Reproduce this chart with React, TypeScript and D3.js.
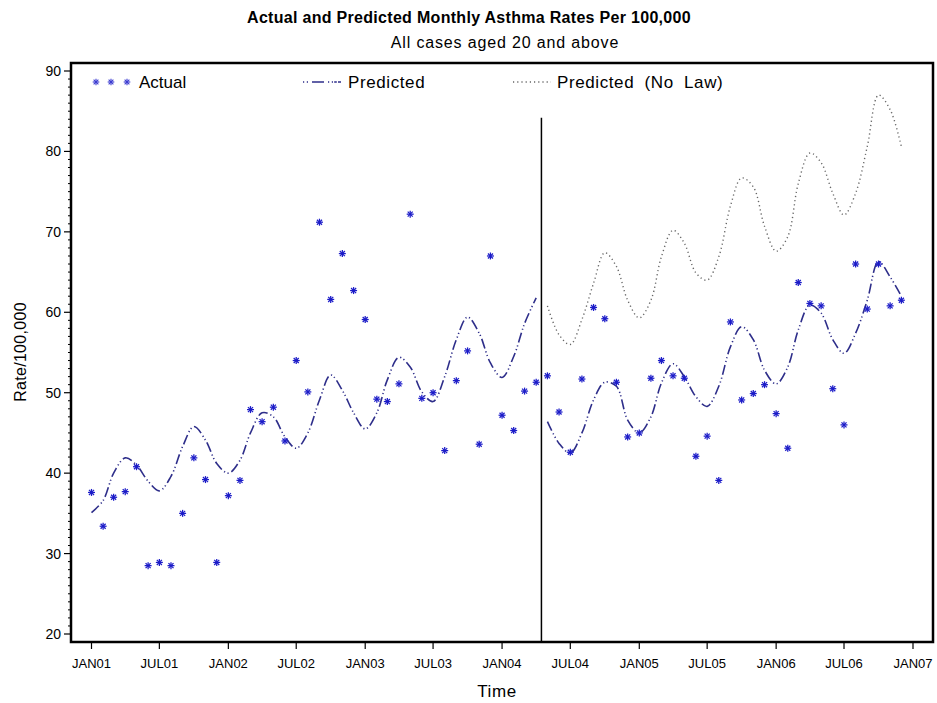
import React from 'react';
import * as d3 from 'd3';

// monthly rates Jan 2001 .. Dec 2006
const actual = [
  37.6, 33.4, 37.0, 37.7, 40.8, 28.5, 28.9, 28.5, 35.0, 41.9, 39.2, 28.9,
  37.2, 39.1, 47.9, 46.4, 48.2, 44.0, 54.0, 50.1, 71.2, 61.6, 67.3, 62.7,
  59.1, 49.2, 48.9, 51.1, 72.2, 49.3, 50.0, 42.8, 51.5, 55.2, 43.6, 67.0,
  47.2, 45.3, 50.2, 51.3, 52.1, 47.6, 42.6, 51.7, 60.6, 59.2, 51.3, 44.5,
  45.0, 51.8, 54.0, 52.1, 51.8, 42.1, 44.6, 39.1, 58.8, 49.1, 49.9, 51.0,
  47.4, 43.1, 63.7, 61.1, 60.8, 50.5, 46.0, 66.0, 60.4, 66.0, 60.8, 61.5,
];

// predicted before the law: Jan 2001 .. Apr 2004
const predictedPre = [
  35.1, 36.6, 40.0, 41.9, 41.0, 39.0, 37.8, 39.6, 43.3, 45.8, 44.1, 41.2,
  40.0, 41.6, 45.0, 47.5, 47.0, 44.5, 43.1, 45.0, 49.1, 52.2, 50.3, 47.5,
  45.5, 47.5, 51.6, 54.4, 53.2, 50.1, 48.9, 52.0, 56.6, 59.4, 57.4, 53.7,
  51.9, 54.5, 58.6, 61.8,
];

// predicted after the law: May 2004 .. Dec 2006
const predictedPost = [
  46.4, 43.7, 42.5, 45.0, 49.1, 51.3, 50.8, 46.6,
  45.0, 47.0, 51.2, 53.6, 52.0, 49.5, 48.3, 50.8, 55.7, 58.2, 56.6, 52.8,
  51.1, 53.2, 57.8, 60.9, 59.9, 56.6, 54.9, 57.4, 61.5, 66.3, 64.4, 62.0,
];

// predicted without the law: May 2004 .. Dec 2006
const predictedNoLaw = [
  60.8, 57.2, 56.0, 59.1, 63.6, 67.4, 65.7, 61.5,
  59.3, 61.5, 66.9, 70.2, 68.6, 64.9, 64.0, 66.9, 73.2, 76.7, 75.6, 70.7,
  67.6, 69.4, 76.0, 79.8, 78.6, 74.8, 72.1, 74.8, 80.6, 87.0, 85.2, 80.6,
];

const yTicks = [20, 30, 40, 50, 60, 70, 80, 90];
const lawDate = new Date(2004, 3, 15);
const lawLineTop = 84.2;

const FONT = '"Liberation Sans", Arial, sans-serif';
const BLUE = '#1c1cc8';
const NAVY = '#2e2e8a';
const GREY = '#666';

const Star = ({ cx, cy, r = 3.5, color = BLUE, w = 1.25 }: any) => (
  <g stroke={color} strokeWidth={w}>
    <line x1={cx} y1={cy - r} x2={cx} y2={cy + r} />
    <line x1={cx - r} y1={cy} x2={cx + r} y2={cy} />
    <line x1={cx - r * 0.72} y1={cy - r * 0.72} x2={cx + r * 0.72} y2={cy + r * 0.72} />
    <line x1={cx - r * 0.72} y1={cy + r * 0.72} x2={cx + r * 0.72} y2={cy - r * 0.72} />
  </g>
);

export default function App() {
  const width = 937;
  const height = 703;
  const frame = { left: 71, right: 933, top: 63, bottom: 642 };

  const start = new Date(2001, 0, 1);
  const end = new Date(2007, 0, 1);
  const months = d3.timeMonth.range(start, end);

  const x = d3.scaleTime().domain([start, end]).range([91.5, 913]);
  const y = d3.scaleLinear().domain([20, 90]).range([634, 71]);

  const line = (offset: number) =>
    d3.line<number>()
      .x((d, i) => x(months[offset + i]))
      .y(d => y(d))
      .curve(d3.curveCatmullRom.alpha(0.5));

  const lawIdx = months.findIndex(m => m > lawDate);

  const xTicks = d3.timeMonth.every(6)!.range(start, d3.timeDay.offset(end, 1));
  const fmt = d3.timeFormat('%b%y');
  const minorY = d3.range(20, 91, 1).filter(v => v % 10 !== 0);

  const predDash = '10 3 1.2 2.6 1.2 3';
  const noLawDash = '1.2 3';

  return (
    <svg width={width} height={height} style={{ position: 'absolute', left: 0, top: 0, background: '#fff' }}
      fontFamily={FONT}>
      <text x={469} y={23} textAnchor="middle" fontSize={16} fontWeight="bold" letterSpacing={0.3}>
        Actual and Predicted Monthly Asthma Rates Per 100,000
      </text>
      <text x={505} y={48} textAnchor="middle" fontSize={16} letterSpacing={0.85}>
        All cases aged 20 and above
      </text>

      {/* y axis ticks */}
      {minorY.map(v => (
        <line key={'m' + v} x1={frame.left - 3} x2={frame.left} y1={y(v)} y2={y(v)} stroke="#000" strokeWidth={1} />
      ))}
      {yTicks.map(v => (
        <g key={v}>
          <line x1={frame.left - 7} x2={frame.left} y1={y(v)} y2={y(v)} stroke="#000" strokeWidth={1.2} />
          <text x={frame.left - 10} y={y(v) + 5} textAnchor="end" fontSize={14}>{v}</text>
        </g>
      ))}

      {/* x axis ticks */}
      {xTicks.map(t => (
        <g key={+t}>
          <line x1={x(t)} x2={x(t)} y1={frame.bottom} y2={frame.bottom + 7} stroke="#000" strokeWidth={1.2} />
          <text x={x(t)} y={668} textAnchor="middle" fontSize={13}>{fmt(t).toUpperCase()}</text>
        </g>
      ))}

      <text x={497} y={697} textAnchor="middle" fontSize={17} letterSpacing={0.6}>Time</text>
      <text transform={`translate(26,352) rotate(-90)`} textAnchor="middle" fontSize={16} letterSpacing={0.3}>
        Rate/100,000
      </text>

      {/* law line */}
      <line x1={x(lawDate)} x2={x(lawDate)} y1={y(lawLineTop)} y2={frame.bottom} stroke="#000" strokeWidth={1.5} />

      {/* series */}
      <path d={line(lawIdx)(predictedNoLaw) || ''} fill="none" stroke={GREY} strokeWidth={1.4} strokeDasharray={noLawDash} />
      <path d={line(0)(predictedPre) || ''} fill="none" stroke={NAVY} strokeWidth={1.6} strokeDasharray={predDash} />
      <path d={line(lawIdx)(predictedPost) || ''} fill="none" stroke={NAVY} strokeWidth={1.6} strokeDasharray={predDash} />
      {actual.map((v, i) => (
        <Star key={i} cx={x(months[i])} cy={y(v)} />
      ))}

      {/* legend */}
      {[96, 111, 127].map(cx => <Star key={cx} cx={cx} cy={82} r={3.3} color="#3a3ad0" w={1.1} />)}
      <text x={139} y={88} fontSize={17}>Actual</text>
      <line x1={303} x2={341} y1={82} y2={82} stroke={NAVY} strokeWidth={1.6} strokeDasharray="1.2 2.6 1.2 4 12 4 1.2 2.6 1.2" />
      <text x={348} y={88} fontSize={17} letterSpacing={0.6}>Predicted</text>
      <line x1={513} x2={551} y1={82} y2={82} stroke={GREY} strokeWidth={1.4} strokeDasharray={noLawDash} />
      <text x={557} y={88} fontSize={17} letterSpacing={0.6} wordSpacing={5}>Predicted (No Law)</text>

      <rect x={frame.left} y={frame.top} width={frame.right - frame.left} height={frame.bottom - frame.top}
        fill="none" stroke="#000" strokeWidth={2.5} />
    </svg>
  );
}
